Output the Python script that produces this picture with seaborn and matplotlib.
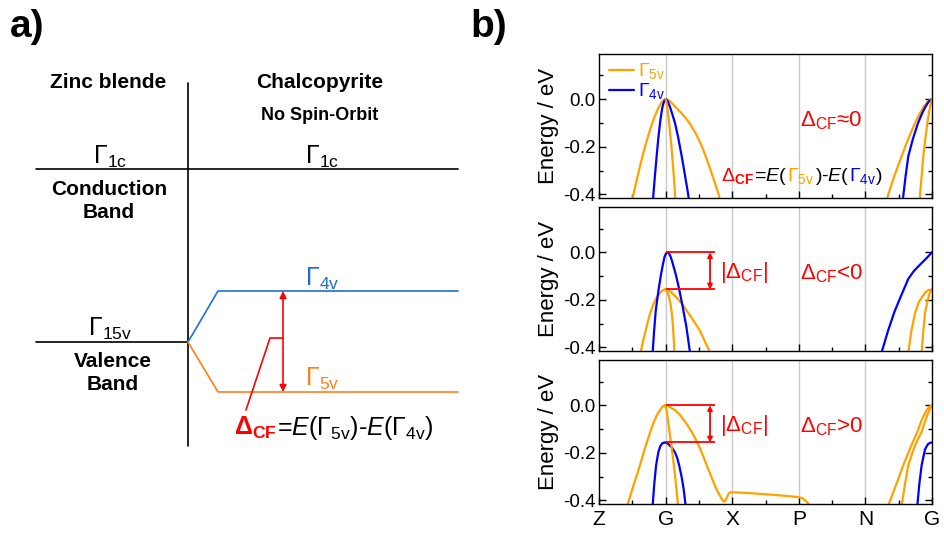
import numpy as np
import matplotlib
matplotlib.use('Agg')
import matplotlib.pyplot as plt
import matplotlib.transforms as mtransforms
from matplotlib.ticker import MultipleLocator, FormatStrFormatter
import seaborn as sns

# ---------------------------------------------------------
# Data: high-symmetry path
# ---------------------------------------------------------
kpath_labels = ['Z', 'G', 'X', 'P', 'N', 'G']
kpath_pos = [0, 1, 2, 3, 4, 5]

# Panel 1 (Delta_CF ~ 0)
p1_g5a_k = [0.50, 0.515, 0.56, 0.605, 0.65, 0.69, 0.735, 0.78, 0.83, 0.89, 0.94, 0.97, 1.0,
            1.03, 1.07, 1.14, 1.20, 1.25, 1.31, 1.37, 1.455, 1.54, 1.605, 1.67, 1.735, 1.80, 1.82]
p1_g5a_e = [-0.43, -0.403, -0.347, -0.293, -0.243, -0.200, -0.157, -0.117, -0.076, -0.037, -0.013, -0.004, 0.0,
            -0.002, -0.009, -0.030, -0.047, -0.062, -0.082, -0.105, -0.145, -0.195, -0.242, -0.293, -0.347, -0.403, -0.43]
p1_g5b_k = [1.0, 1.015, 1.035, 1.06, 1.085, 1.11, 1.13, 1.148]
p1_g5b_e = [0.0, -0.015, -0.055, -0.12, -0.19, -0.275, -0.35, -0.43]
p1_g4_k = [0.81, 0.816, 0.84, 0.866, 0.89, 0.916, 0.935, 0.951, 0.968, 0.985, 1.0,
           1.015, 1.035, 1.066, 1.10, 1.141, 1.19, 1.241, 1.29, 1.341, 1.35]
p1_g4_e = [-0.43, -0.403, -0.32, -0.238, -0.165, -0.10, -0.062, -0.035, -0.016, -0.004, 0.0,
           -0.002, -0.01, -0.032, -0.062, -0.10, -0.162, -0.238, -0.318, -0.403, -0.43]
p1_g5c_k = [4.32, 4.34, 4.44, 4.545, 4.645, 4.745, 4.81, 4.87, 4.93, 4.97, 5.0]
p1_g5c_e = [-0.43, -0.403, -0.318, -0.238, -0.165, -0.10, -0.063, -0.034, -0.012, -0.003, 0.0]
p1_g4r_k = [4.562, 4.57, 4.605, 4.645, 4.715, 4.79, 4.85, 4.90, 4.95, 5.0]
p1_g4r_e = [-0.43, -0.403, -0.32, -0.238, -0.165, -0.10, -0.06, -0.032, -0.01, 0.0]
p1_g5d_k = [4.815, 4.82, 4.845, 4.87, 4.90, 4.93, 4.955, 4.98, 5.0]
p1_g5d_e = [-0.43, -0.403, -0.32, -0.238, -0.165, -0.10, -0.055, -0.02, 0.0]

# Panel 2 (Delta_CF < 0)
p2_g4_k = [0.80, 0.806, 0.825, 0.85, 0.89, 0.93, 0.96, 0.985, 1.01, 1.03, 1.05, 1.075, 1.10,
           1.15, 1.20, 1.25, 1.31, 1.366, 1.375]
p2_g4_e = [-0.43, -0.42, -0.34, -0.251, -0.165, -0.095, -0.05, -0.018, -0.003, 0.0, -0.004, -0.018, -0.04,
           -0.09, -0.15, -0.22, -0.31, -0.42, -0.43]
p2_g5a_k = [0.615, 0.625, 0.66, 0.70, 0.735, 0.766, 0.815, 0.866, 0.93, 0.96, 0.99, 1.03, 1.08,
            1.166, 1.25, 1.341, 1.43, 1.516, 1.59, 1.666, 1.68]
p2_g5a_e = [-0.43, -0.42, -0.375, -0.33, -0.29, -0.258, -0.22, -0.19, -0.166, -0.159, -0.156, -0.158, -0.167,
            -0.19, -0.218, -0.255, -0.292, -0.33, -0.375, -0.42, -0.43]
p2_g5b_k = [0.99, 1.02, 1.05, 1.075, 1.095, 1.11, 1.125, 1.135]
p2_g5b_e = [-0.156, -0.163, -0.185, -0.22, -0.26, -0.31, -0.38, -0.43]
p2_g4r_k = [4.235, 4.244, 4.34, 4.435, 4.54, 4.645, 4.73, 4.82, 4.91, 5.0]
p2_g4r_e = [-0.43, -0.42, -0.33, -0.251, -0.18, -0.111, -0.078, -0.052, -0.027, 0.0]
p2_g5c_k = [4.64, 4.645, 4.69, 4.745, 4.80, 4.845, 4.90, 4.95, 5.0]
p2_g5c_e = [-0.43, -0.42, -0.33, -0.256, -0.21, -0.19, -0.168, -0.159, -0.156]
p2_g5d_k = [4.84, 4.845, 4.87, 4.895, 4.935, 4.97, 5.0]
p2_g5d_e = [-0.43, -0.42, -0.33, -0.256, -0.20, -0.168, -0.156]

# Panel 3 (Delta_CF > 0)
p3_g5a_k = [0.415, 0.425, 0.52, 0.616, 0.69, 0.766, 0.816, 0.866, 0.93, 0.96, 0.991, 1.03, 1.08, 1.15,
            1.216, 1.30, 1.391, 1.455, 1.516, 1.566, 1.616, 1.666, 1.716, 1.76, 1.80, 1.84, 1.865,
            1.881, 1.90, 1.925, 1.945, 1.967, 2.05, 2.3, 2.6, 2.85, 2.993, 3.04, 3.08, 3.118, 3.15, 3.17]
p3_g5a_e = [-0.43, -0.42, -0.335, -0.251, -0.18, -0.115, -0.075, -0.043, -0.014, -0.004, 0.0, -0.002, -0.01, -0.022,
            -0.041, -0.072, -0.111, -0.145, -0.181, -0.215, -0.251, -0.286, -0.321, -0.35, -0.372, -0.392, -0.402,
            -0.405, -0.40, -0.385, -0.372, -0.366, -0.366, -0.37, -0.376, -0.382, -0.386, -0.389, -0.396, -0.406, -0.416, -0.43]
p3_g5b_k = [0.991, 1.01, 1.035, 1.06, 1.085, 1.11, 1.14, 1.165, 1.19]
p3_g5b_e = [0.0, -0.015, -0.06, -0.115, -0.165, -0.22, -0.29, -0.36, -0.43]
p3_g4_k = [0.80, 0.806, 0.83, 0.856, 0.89, 0.92, 0.95, 0.985, 1.02, 1.06, 1.10, 1.141, 1.175,
           1.206, 1.24, 1.27, 1.30, 1.31]
p3_g4_e = [-0.43, -0.42, -0.33, -0.255, -0.198, -0.172, -0.16, -0.156, -0.158, -0.168, -0.18, -0.198, -0.222,
           -0.255, -0.30, -0.35, -0.42, -0.43]
p3_g5c_k = [4.335, 4.344, 4.46, 4.57, 4.68, 4.78, 4.84, 4.88, 4.93, 4.97, 5.0]
p3_g5c_e = [-0.43, -0.42, -0.335, -0.251, -0.175, -0.111, -0.066, -0.041, -0.016, -0.004, 0.0]
p3_g5d_k = [4.538, 4.545, 4.595, 4.645, 4.71, 4.77, 4.845, 4.90, 4.93, 4.97, 5.0]
p3_g5d_e = [-0.43, -0.42, -0.33, -0.251, -0.195, -0.153, -0.111, -0.065, -0.041, -0.014, 0.0]
p3_g4r_k = [4.775, 4.78, 4.81, 4.845, 4.895, 4.94, 4.97, 5.0]
p3_g4r_e = [-0.43, -0.42, -0.33, -0.251, -0.185, -0.163, -0.158, -0.156]

# top-of-band levels at G for the |Delta_CF| marker (panels 2, 3)
split_levels = [0.0, -0.156]

# Schematic (panel a), pixel units
zb_level_x = [36, 188]
cb_level_x = [36, 458]
level_g1c = 169
level_g15v = 342
level_g4v = 291
level_g5v = 392
split_x = [188, 218, 458]
divider_y = [83, 446]

ORANGE = '#FFA200'
BLUE = '#0000FF'
S_ORANGE = '#FF7F1E'
S_BLUE = '#1E70D0'
RED = '#FF0000'

sns.set_theme(style='ticks')
plt.rcParams['font.family'] = ['Liberation Sans', 'DejaVu Sans']
plt.rcParams['mathtext.fontset'] = 'custom'
plt.rcParams['mathtext.rm'] = 'Liberation Sans'
plt.rcParams['mathtext.it'] = 'Liberation Sans:italic'
plt.rcParams['mathtext.bf'] = 'Liberation Sans:bold'
plt.rcParams['mathtext.sf'] = 'Liberation Sans'
plt.rcParams['axes.unicode_minus'] = False
plt.rcParams['text.color'] = 'black'
plt.rcParams['axes.labelcolor'] = 'black'
plt.rcParams['xtick.color'] = 'black'
plt.rcParams['ytick.color'] = 'black'

fig = plt.figure(figsize=(9.44, 5.35), dpi=100)


def color_text(ax, x, y, parts, size, weight='normal'):
    # draw several coloured pieces on one baseline, centred on x
    renderer = fig.canvas.get_renderer()
    texts = []
    for s, c in parts:
        texts.append(ax.text(x, y, s, color=c, fontsize=size, va='baseline', ha='left',
                             fontweight=weight))
    widths = [t.get_window_extent(renderer).width for t in texts]
    off = -sum(widths) / 2
    for t, w in zip(texts, widths):
        t.set_transform(mtransforms.offset_copy(ax.transData, x=off, y=0, units='dots'))
        off += w


# ---------------------------------------------------------
# Panel a) schematic
# ---------------------------------------------------------
axa = fig.add_axes([0, 0, 470 / 944, 1])
axa.set_xlim(0, 470)
axa.set_ylim(535, 0)
axa.axis('off')

axa.plot([split_x[0]] * 2, divider_y, color='black', lw=1.2)
axa.plot(cb_level_x, [level_g1c] * 2, color='black', lw=1.2)
axa.plot(zb_level_x, [level_g15v] * 2, color='black', lw=1.2)
axa.plot(split_x, [level_g15v, level_g4v, level_g4v], color=S_BLUE, lw=1.2)
axa.plot(split_x, [level_g15v, level_g5v, level_g5v], color=S_ORANGE, lw=1.2)

arrow_x = 283
axa.annotate('', xy=(arrow_x, level_g4v), xytext=(arrow_x, level_g5v),
             arrowprops=dict(arrowstyle='<|-|>', color=RED, lw=1.2, mutation_scale=10,
                             shrinkA=0, shrinkB=0))
axa.plot([arrow_x, 270, 246], [338, 338, 410], color=RED, lw=1.2)

axa.text(108, 83, 'Zinc blende', fontsize=15, fontweight='bold', ha='center', va='center')
axa.text(320, 83, 'Chalcopyrite', fontsize=15, fontweight='bold', ha='center', va='center')
axa.text(320, 116, 'No Spin-Orbit', fontsize=13, fontweight='bold', ha='center', va='center')
axa.text(110, 157, r'$\Gamma_{\mathrm{1c}}$', fontsize=18, ha='center', va='center')
axa.text(322, 157, r'$\Gamma_{\mathrm{1c}}$', fontsize=18, ha='center', va='center')
axa.text(109, 201, 'Conduction\nBand', fontsize=15, fontweight='bold', ha='center', va='center',
         linespacing=1.3)
axa.text(110, 329, r'$\Gamma_{\mathrm{15v}}$', fontsize=18, ha='center', va='center')
axa.text(113, 373, 'Valence\nBand', fontsize=15, fontweight='bold', ha='center', va='center',
         linespacing=1.3)
axa.text(322, 279, r'$\Gamma_{\mathrm{4v}}$', fontsize=18, ha='center', va='center', color=S_BLUE)
axa.text(322, 379, r'$\Gamma_{\mathrm{5v}}$', fontsize=18, ha='center', va='center', color=S_ORANGE)
color_text(axa, 334, 435,
           [(r'$\mathbf{\Delta_{CF}}$', RED),
            (r'=$\mathit{E}$($\Gamma_{\mathrm{5v}}$)-$\mathit{E}$($\Gamma_{\mathrm{4v}}$)', 'black')],
           size=18)

fig.text(10 / 944, 1 - 37 / 535, 'a)', fontsize=28, fontweight='bold', va='baseline')
fig.text(470 / 944, 1 - 37 / 535, 'b)', fontsize=28, fontweight='bold', va='baseline')

# ---------------------------------------------------------
# Panel b) band structures
# ---------------------------------------------------------
panels = [
    [(p1_g5a_k, p1_g5a_e, ORANGE, r'$\Gamma_{\mathrm{5v}}$'), (p1_g4_k, p1_g4_e, BLUE, r'$\Gamma_{\mathrm{4v}}$'),
     (p1_g5b_k, p1_g5b_e, ORANGE, None), (p1_g5c_k, p1_g5c_e, ORANGE, None),
     (p1_g4r_k, p1_g4r_e, BLUE, None), (p1_g5d_k, p1_g5d_e, ORANGE, None)],
    [(p2_g5a_k, p2_g5a_e, ORANGE, None), (p2_g5b_k, p2_g5b_e, ORANGE, None),
     (p2_g4_k, p2_g4_e, BLUE, None), (p2_g4r_k, p2_g4r_e, BLUE, None),
     (p2_g5c_k, p2_g5c_e, ORANGE, None), (p2_g5d_k, p2_g5d_e, ORANGE, None)],
    [(p3_g4_k, p3_g4_e, BLUE, None), (p3_g5a_k, p3_g5a_e, ORANGE, None),
     (p3_g5b_k, p3_g5b_e, ORANGE, None), (p3_g5c_k, p3_g5c_e, ORANGE, None),
     (p3_g5d_k, p3_g5d_e, ORANGE, None), (p3_g4r_k, p3_g4r_e, BLUE, None)],
]
panel_notes = [r'$\Delta_{\mathrm{CF}}$≈0', r'$\Delta_{\mathrm{CF}}$<0', r'$\Delta_{\mathrm{CF}}$>0']
bottoms = [0.6299, 0.3439, 0.0579]

axes = []
for i, (curves, bottom) in enumerate(zip(panels, bottoms)):
    ax = fig.add_axes([599 / 944, bottom, 333 / 944, 0.269])
    axes.append(ax)
    for k in kpath_pos[1:-1]:
        ax.axvline(k, color='#c8c8c8', lw=1.0, zorder=0)
    for kk, ee, col, lab in curves:
        sns.lineplot(x=kk, y=ee, sort=False, estimator=None, color=col, lw=1.6, ax=ax, label=lab,
                     legend=False)
    ax.set_xlim(kpath_pos[0], kpath_pos[-1])
    ax.set_ylim(-0.415, 0.19)
    ax.set_xticks(kpath_pos)
    ax.set_xticklabels(kpath_labels)
    ax.xaxis.set_minor_locator(MultipleLocator(0.5))
    ax.set_yticks([-0.4, -0.2, 0.0])
    ax.yaxis.set_major_formatter(FormatStrFormatter('%.1f'))
    ax.yaxis.set_minor_locator(MultipleLocator(0.1))
    ax.tick_params(axis='both', which='both', direction='in', right=True, top=False,
                   labelsize=13.5, width=1)
    ax.tick_params(axis='both', which='major', length=5)
    ax.tick_params(axis='both', which='minor', length=3)
    ax.tick_params(axis='y', pad=2.5)
    ax.tick_params(axis='x', labelsize=15, pad=4)
    if i < 2:
        ax.tick_params(axis='x', labelbottom=False)
    for sp in ax.spines.values():
        sp.set_color('black')
        sp.set_linewidth(1.0)
    ax.set_ylabel('Energy / eV', fontsize=16, labelpad=3)
    ax.set_xlabel('')
    ax.text(3.49, -0.09, panel_notes[i], color=RED, fontsize=16, ha='center', va='center')
    if i > 0:
        ax.hlines(split_levels, 1.0, 1.74, color=RED, lw=1.3)
        ax.annotate('', xy=(1.667, split_levels[0]), xytext=(1.667, split_levels[1]),
                    arrowprops=dict(arrowstyle='<|-|>', color=RED, lw=1.3, mutation_scale=7,
                                    shrinkA=0, shrinkB=0))
        ax.text(2.17, -0.085, r'|$\Delta_{\mathrm{CF}}$|', color=RED, fontsize=16,
                ha='center', va='center')

# legend and formula in the top panel
leg = axes[0].legend(loc='upper left', bbox_to_anchor=(-0.005, 1.03), frameon=False, fontsize=14,
                     handlelength=1.3, handletextpad=0.2, labelspacing=0.0, borderaxespad=0.2)
for txt, line in zip(leg.get_texts(), leg.get_lines()):
    txt.set_color(line.get_color())
color_text(axes[0], 3.05, -0.342,
           [(r'$\Delta_{\mathbf{CF}}$', RED), (r'=$\mathit{E}$(', 'black'),
            (r'$\Gamma_{\mathrm{5v}}$', ORANGE), (r')-$\mathit{E}$(', 'black'),
            (r'$\Gamma_{\mathrm{4v}}$', BLUE), (')', 'black')],
           size=14)

fig.savefig('out.png', dpi=100)
